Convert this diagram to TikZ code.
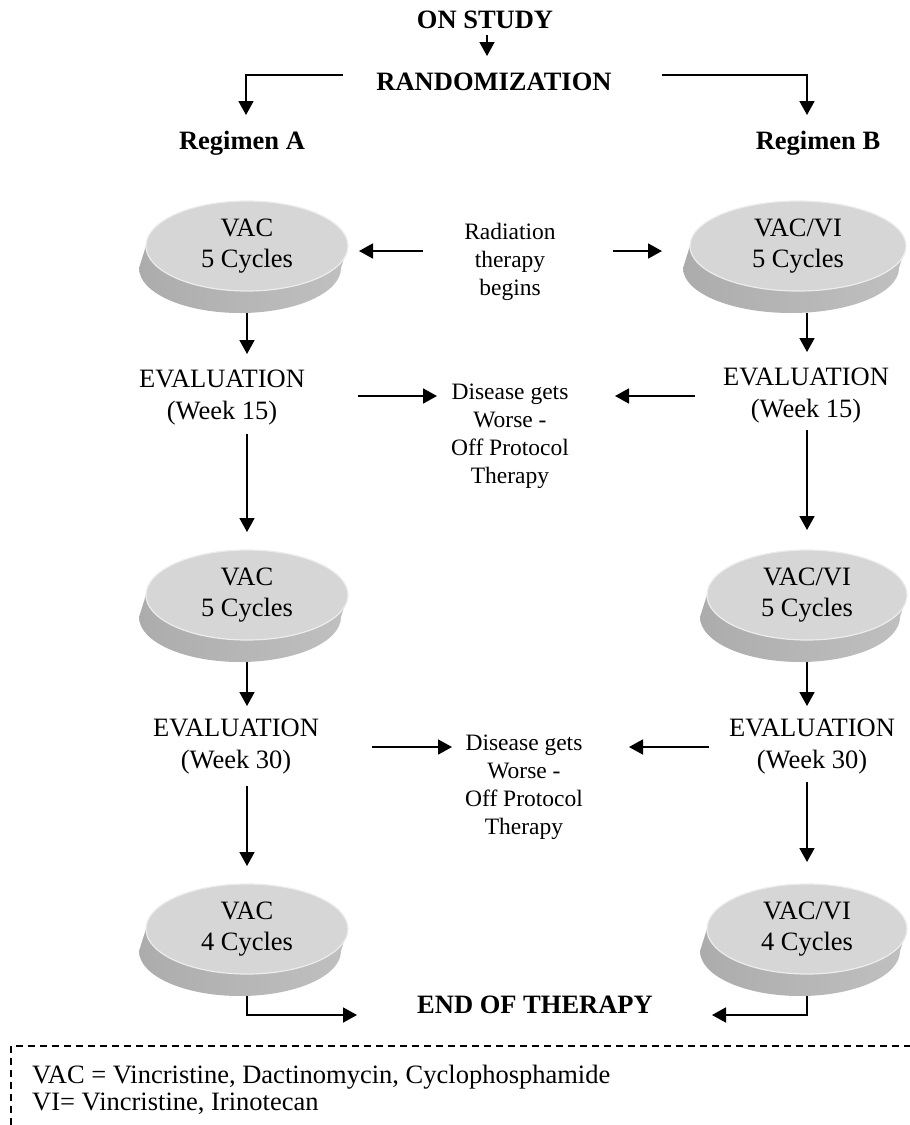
\documentclass[tikz,border=0pt]{standalone}
\usepackage{fontspec}
\setmainfont{Liberation Serif}
\usetikzlibrary{arrows.meta}
\definecolor{pilltop}{RGB}{214,214,214}
\definecolor{pillrim}{RGB}{236,236,236}
\definecolor{sideL}{RGB}{172,172,172}
\definecolor{sideM}{RGB}{214,214,214}
\definecolor{sideR}{RGB}{192,192,192}
\tikzset{
  head/.style={font=\bfseries\fontsize{26.5}{30}\selectfont, inner sep=0pt},
  body/.style={font=\fontsize{26.5}{32}\selectfont, align=center, inner sep=0pt},
  pilltext/.style={font=\fontsize{26.5}{31}\selectfont, align=center, inner sep=0pt},
  note/.style={font=\fontsize{23.5}{28}\selectfont, align=center, inner sep=0pt},
  legendtext/.style={font=\fontsize{26.5}{27}\selectfont, align=left, inner sep=0pt},
  arr/.style={-{Triangle[width=15pt,length=14pt]}, line width=1.8pt},
  dashbox/.style={line width=1.3pt, dash pattern=on 7pt off 5pt},
}
% name, cx, cy (pixels, downwards), rx, text
\newcommand{\drawpill}[5]{%
  \path[left color=sideL, middle color=sideM, right color=sideR]
    (#2-#4,-#3) -- (#2-#4-7,-#3-22)
    arc[start angle=180, end angle=360, x radius=#4pt, y radius=45pt]
    -- (#2+#4,-#3) -- cycle;
  \fill[pilltop] (#2,-#3) ellipse[x radius=#4pt, y radius=45pt];
  \draw[pillrim, line width=1.2pt] (#2,-#3) ellipse[x radius=#4pt, y radius=45pt];
  \node[pilltext] (#1) at (#2,-#3) {#5};
}
\begin{document}
\begin{tikzpicture}[x=1pt, y=1pt]
\useasboundingbox (0,0) rectangle (910,-1125);

% headings
\node[head] (onstudy) at (485,-20) {ON STUDY};
\node[head] (rand) at (494,-82) {RANDOMIZATION};
\node[head] (regA) at (242,-143) {Regimen A};
\node[head] (regB) at (818,-143) {Regimen B};
\node[head] (end) at (535,-1005) {END OF THERAPY};

% pills
\drawpill{pA1}{247}{246}{101}{VAC\\5 Cycles}
\drawpill{pB1}{798}{246}{108}{VAC/VI\\5 Cycles}
\drawpill{pA2}{247}{595}{101}{VAC\\5 Cycles}
\drawpill{pB2}{807}{595}{100}{VAC/VI\\5 Cycles}
\drawpill{pA3}{247}{929}{101}{VAC\\4 Cycles}
\drawpill{pB3}{807}{929}{100}{VAC/VI\\4 Cycles}

% evaluations
\node[body] (eA1) at (222,-398) {EVALUATION\\(Week 15)};
\node[body] (eB1) at (806,-396) {EVALUATION\\(Week 15)};
\node[body] (eA2) at (236,-747) {EVALUATION\\(Week 30)};
\node[body] (eB2) at (812,-747) {EVALUATION\\(Week 30)};

% centre notes
\node[note] (rad) at (510,-262) {Radiation\\therapy\\begins};
\node[note] (dis1) at (510,-436) {Disease gets\\Worse -\\Off Protocol\\Therapy};
\node[note] (dis2) at (524,-787) {Disease gets\\Worse -\\Off Protocol\\Therapy};

% connector end points
\coordinate (os1) at (487,-35);   \coordinate (os2) at (487,-56);
\coordinate (rl) at (343,-75);    \coordinate (rlt) at (246,-115);
\coordinate (rr) at (662,-75);    \coordinate (rrt) at (807,-115);
\coordinate (radL1) at (423,-251); \coordinate (radL2) at (359,-251);
\coordinate (radR1) at (613,-251); \coordinate (radR2) at (662,-251);
\coordinate (a1s) at (247,-313);  \coordinate (a1t) at (247,-354);
\coordinate (b1s) at (807,-313);  \coordinate (b1t) at (807,-352);
\coordinate (ea1r) at (358,-396); \coordinate (d1l) at (437,-396);
\coordinate (eb1l) at (695,-396); \coordinate (d1r) at (615,-396);
\coordinate (a2s) at (247,-434);  \coordinate (a2t) at (247,-532);
\coordinate (b2s) at (807,-430);  \coordinate (b2t) at (807,-530);
\coordinate (a3s) at (247,-662);  \coordinate (a3t) at (247,-706);
\coordinate (b3s) at (807,-662);  \coordinate (b3t) at (807,-706);
\coordinate (ea2r) at (372,-747); \coordinate (d2l) at (452,-747);
\coordinate (eb2l) at (709,-747); \coordinate (d2r) at (629,-747);
\coordinate (a4s) at (247,-786);  \coordinate (a4t) at (247,-866);
\coordinate (b4s) at (807,-782);  \coordinate (b4t) at (807,-862);
\coordinate (a5s) at (247,-996);  \coordinate (a5t) at (357,-1015);
\coordinate (b5s) at (807,-996);  \coordinate (b5t) at (712,-1015);

% connectors
\draw[arr] (os1) -- (os2);
\draw[arr] (rl) -| (rlt);
\draw[arr] (rr) -| (rrt);
\draw[arr] (radL1) -- (radL2);
\draw[arr] (radR1) -- (radR2);
\draw[arr] (a1s) -- (a1t);
\draw[arr] (b1s) -- (b1t);
\draw[arr] (ea1r) -- (d1l);
\draw[arr] (eb1l) -- (d1r);
\draw[arr] (a2s) -- (a2t);
\draw[arr] (b2s) -- (b2t);
\draw[arr] (a3s) -- (a3t);
\draw[arr] (b3s) -- (b3t);
\draw[arr] (ea2r) -- (d2l);
\draw[arr] (eb2l) -- (d2r);
\draw[arr] (a4s) -- (a4t);
\draw[arr] (b4s) -- (b4t);
\draw[arr] (a5s) |- (a5t);
\draw[arr] (b5s) |- (b5t);

% legend
\coordinate (lg1) at (11,-1125);
\coordinate (lg2) at (11,-1046);
\coordinate (lg3) at (910,-1046);
\draw[dashbox] (lg1) -- (lg2) -- (lg3);
\node[legendtext, anchor=north west] (legend) at (32,-1065)
  {VAC = Vincristine, Dactinomycin, Cyclophosphamide\\VI= Vincristine, Irinotecan};
\end{tikzpicture}
\end{document}
